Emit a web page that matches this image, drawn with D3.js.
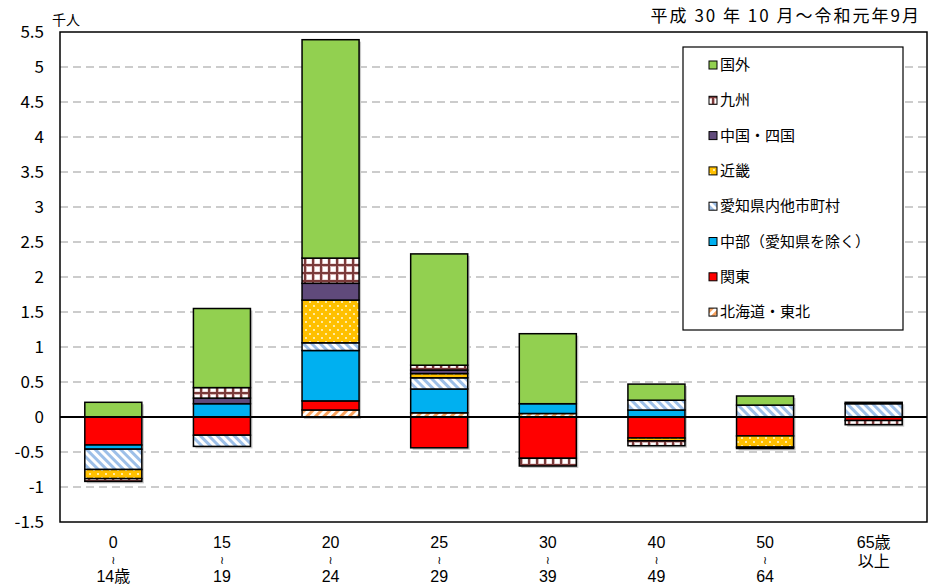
<!DOCTYPE html>
<html><head><meta charset="utf-8">
<script src="https://cdn.jsdelivr.net/npm/d3@7"></script>
<style>
body{margin:0;background:#fff;}
svg{display:block;font-family:"Noto Sans CJK JP","Noto Sans",sans-serif;}
</style></head>
<body><svg id="c" width="928" height="587"></svg>
<script>
const categories = ["0-14","15-19","20-24","25-29","30-39","40-49","50-64","65+"];
const xLabelLines = [["0","≀","14歳"],["15","≀","19"],["20","≀","24"],["25","≀","29"],["30","≀","39"],["40","≀","49"],["50","≀","64"],["65歳","以上"]];
const seriesNames = ["北海道・東北","関東","中部（愛知県を除く）","愛知県内他市町村","近畿","中国・四国","九州","国外"];
const hokkaidoTohoku = [0, 0, 0.10, 0.06, 0.05, 0, 0, 0];
const kanto          = [-0.40, -0.26, 0.13, -0.44, -0.59, -0.30, -0.27, -0.05];
const chubu          = [-0.06, 0.19, 0.72, 0.34, 0.14, 0.10, 0, 0];
const aichiOther     = [-0.29, -0.16, 0.11, 0.16, 0, 0.14, 0.17, 0.19];
const kinki          = [-0.13, 0, 0.61, 0.06, 0, -0.04, -0.16, 0];
const chugokuShikoku = [0, 0.08, 0.24, 0.05, 0, 0, 0, 0.02];
const kyushu         = [-0.04, 0.15, 0.36, 0.07, -0.11, -0.07, -0.02, -0.06];
const kokugai        = [0.21, 1.13, 3.12, 1.59, 1.00, 0.23, 0.13, 0];
const seriesValues = [hokkaidoTohoku, kanto, chubu, aichiOther, kinki, chugokuShikoku, kyushu, kokugai];
const yTicks = [-1.5,-1,-0.5,0,0.5,1,1.5,2,2.5,3,3.5,4,4.5,5,5.5];
const yTickLabels = ["-1.5","-1","-0.5","0","0.5","1","1.5","2","2.5","3","3.5","4","4.5","5","5.5"];
const unitLabel = "千人";
const periodLabel = "平成 30 年 10 月～令和元年9月";

const fills = ["url(#pOrange)","#ff0000","#00b0f0","url(#pBlue)","url(#pDots)","#604a7b","url(#pCheck)","#92d050"];

const svg = d3.select("#c");
const defs = svg.append("defs");
let p = defs.append("pattern").attr("id","pOrange").attr("patternUnits","userSpaceOnUse").attr("width",6).attr("height",6).attr("patternTransform","rotate(45)");
p.append("rect").attr("width",6).attr("height",6).attr("fill","#fff");
p.append("rect").attr("width",3).attr("height",6).attr("fill","#f8a25e");
p = defs.append("pattern").attr("id","pBlue").attr("patternUnits","userSpaceOnUse").attr("width",6).attr("height",6).attr("patternTransform","rotate(-45)");
p.append("rect").attr("width",6).attr("height",6).attr("fill","#fff");
p.append("rect").attr("width",3).attr("height",6).attr("fill","#9dbfe8");
p = defs.append("pattern").attr("id","pDots").attr("patternUnits","userSpaceOnUse").attr("width",8).attr("height",8);
p.append("rect").attr("width",8).attr("height",8).attr("fill","#ffc000");
p.append("circle").attr("cx",2).attr("cy",2).attr("r",1).attr("fill","#fff8d8");
p.append("circle").attr("cx",6).attr("cy",6).attr("r",1).attr("fill","#fff8d8");
p = defs.append("pattern").attr("id","pCheck").attr("patternUnits","userSpaceOnUse").attr("width",8).attr("height",8);
p.append("rect").attr("width",8).attr("height",8).attr("fill","#fff");
p.append("rect").attr("width",8).attr("height",2.4).attr("fill","#7a3a3a");
p.append("rect").attr("width",2.4).attr("height",8).attr("fill","#7a3a3a");
p.append("rect").attr("x",2.4).attr("y",2.4).attr("width",5.6).attr("height",5.6).attr("fill","none").attr("stroke","#d9b0b0").attr("stroke-width",0.8);

svg.append("rect").attr("width",928).attr("height",587).attr("fill","#fff");

const L = 60, R = 927, T = 32, B = 522;
const x = d3.scaleBand().domain(categories).range([59, 928]).paddingInner(0.475).paddingOuter(0.2375);
const y = d3.scaleLinear().domain([-1.5, 5.5]).range([B, T]);

svg.append("g").selectAll("line").data(yTicks.filter(v => v > -1.5 && v < 5.5 && v !== 0)).join("line")
  .attr("x1", L).attr("x2", R).attr("y1", d => y(d)).attr("y2", d => y(d))
  .attr("stroke","#9a9a9a").attr("stroke-width",1.2).attr("stroke-dasharray","8,5");

const yAxis = d3.axisLeft(y).tickValues(yTicks).tickSize(0).tickPadding(16)
  .tickFormat((d,i) => yTickLabels[i]);
const ga = svg.append("g").attr("transform",`translate(${L},0)`).call(yAxis);
ga.select(".domain").remove();
ga.selectAll("text").attr("font-size",17).attr("fill","#000").attr("font-family","'Noto Sans CJK JP',sans-serif");

const table = categories.map((c,i) => {
  const o = {cat:c};
  seriesNames.forEach((s,j) => o[s] = seriesValues[j][i]);
  return o;
});
const stack = d3.stack().keys(seriesNames).order(d3.stackOrderNone).offset(d3.stackOffsetDiverging);
const layers = stack(table);

svg.append("g").selectAll("rect").data(categories).join("rect")
  .attr("x", d => x(d) + 2).attr("width", x.bandwidth())
  .attr("y", (d,i) => y(d3.max(layers, l => l[i][1])) + 2)
  .attr("height", (d,i) => y(d3.min(layers, l => l[i][0])) - y(d3.max(layers, l => l[i][1])))
  .attr("fill","#c8c8c8");

const gb = svg.append("g");
layers.forEach((layer, j) => {
  gb.append("g").selectAll("rect").data(layer.filter(d => d[1] !== d[0])).join("rect")
    .attr("x", d => x(d.data.cat)).attr("width", x.bandwidth())
    .attr("y", d => y(Math.max(d[0], d[1])))
    .attr("height", d => Math.abs(y(d[0]) - y(d[1])))
    .attr("fill", fills[j]).attr("stroke","#000").attr("stroke-width",1.5);
});

svg.append("line").attr("x1",L).attr("x2",R).attr("y1",y(0)).attr("y2",y(0)).attr("stroke","#000").attr("stroke-width",2);

svg.append("rect").attr("x",L).attr("y",T).attr("width",R-L).attr("height",B-T)
  .attr("fill","none").attr("stroke","#000").attr("stroke-width",1.5);

const gx = svg.append("g");
categories.forEach((c,i) => {
  const lines = xLabelLines[i];
  const cx = x(c) + x.bandwidth()/2;
  const ys = lines.length === 3 ? [548, 564, 582] : [548, 567];
  lines.forEach((t,k) => {
    const isWave = t === "≀";
    gx.append("text").attr("x", cx).attr("y", ys[k])
      .attr("text-anchor","middle").attr("font-size", isWave ? 11 : 16)
      .attr("font-family", isWave ? "DejaVu Sans" : "'Liberation Sans','Noto Sans CJK JP',sans-serif")
      .attr("fill","#000").text(t);
  });
});

svg.append("text").attr("x",52).attr("y",25).attr("font-size",14).attr("fill","#000").text(unitLabel);
svg.append("text").attr("x",921).attr("y",22).attr("text-anchor","end").attr("font-size",17)
  .attr("letter-spacing",2).attr("fill","#000").text(periodLabel);

const lg = svg.append("g");
lg.append("rect").attr("x",683).attr("y",47).attr("width",220).attr("height",283).attr("fill","#fff").attr("stroke","#000").attr("stroke-width",1.2);
const legOrder = seriesNames.map((s,j) => j).reverse();
legOrder.forEach((j,k) => {
  const cy = 65 + k*35.3;
  lg.append("rect").attr("x",709).attr("y",cy-4).attr("width",8).attr("height",8)
    .attr("fill",fills[j]).attr("stroke","#000").attr("stroke-width",1);
  lg.append("text").attr("x",720).attr("y",cy+5).attr("font-size",15).attr("fill","#000").text(seriesNames[j]);
});
</script></body></html>
